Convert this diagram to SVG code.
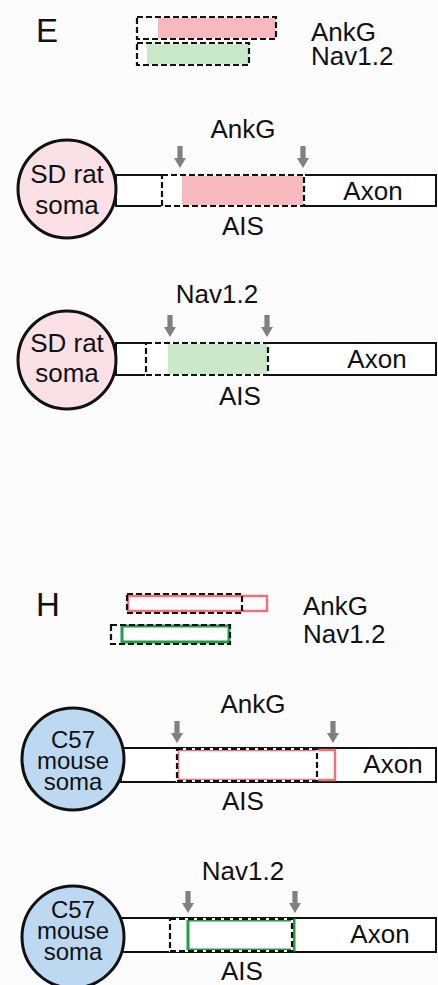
<svg xmlns="http://www.w3.org/2000/svg" width="438" height="985" viewBox="0 0 438 985">
<defs>
<style>
text{font-family:"Liberation Sans",Arial,sans-serif;fill:#111;font-size:26px}
.mid{text-anchor:middle}
.big{font-size:33px}
.ax{fill:#fff;stroke:#111;stroke-width:2}
.dash{fill:none;stroke:#111;stroke-width:2.2;stroke-dasharray:6 3}
.wl{fill:none;stroke:#fff;stroke-width:2}
.arr{fill:#808080}
.somaP{fill:#fbe1e5;stroke:#111;stroke-width:3}
.somaB{fill:#bdd9f2;stroke:#111;stroke-width:3}
.pinkF{fill:#f8babf}
.greenF{fill:#c9e8ca}
.pinkS{fill:none;stroke:#ef737c;stroke-width:2.5}
.greenS{fill:none;stroke:#1f9e4c;stroke-width:3}
.sm{font-size:24px}
</style>
<path id="arrow" d="M-2.6,0 H2.6 V12 H6 L0,22 L-6,12 H-2.6 Z"/>
</defs>
<rect width="438" height="985" fill="#fcfcfc"/>

<g id="panelE-label"><text class="big" x="36" y="42">E</text></g>
<g id="legendE">
<rect class="pinkF" x="158" y="18" width="118" height="20"/>
<rect class="dash" x="137" y="17" width="139" height="22"/>
<rect class="greenF" x="147" y="44" width="102" height="20"/>
<rect class="dash" x="137" y="43" width="112" height="22"/>
<text x="311" y="41">AnkG</text>
<text x="311" y="65">Nav1.2</text>
</g>

<g id="E1">
<rect class="ax" x="116" y="175" width="320" height="31"/>
<rect class="pinkF" x="182" y="176" width="122" height="29"/>
<rect class="wl" x="162" y="175" width="142" height="31"/>
<rect class="dash" x="162" y="175" width="142" height="31"/>
<circle class="somaP" cx="67" cy="189" r="49"/>
<text class="mid" x="67" y="183">SD rat</text>
<text class="mid" x="67" y="214">soma</text>
<text class="mid" x="243" y="138">AnkG</text>
<text class="mid" x="373" y="200">Axon</text>
<text class="mid" x="243" y="235">AIS</text>
</g>

<g id="E2">
<rect class="ax" x="116" y="343" width="320" height="32"/>
<rect class="greenF" x="168" y="344" width="100" height="30"/>
<rect class="wl" x="146" y="343" width="122" height="32"/>
<rect class="dash" x="146" y="343" width="122" height="32"/>
<circle class="somaP" cx="67" cy="360" r="49"/>
<text class="mid" x="67" y="352">SD rat</text>
<text class="mid" x="67" y="382">soma</text>
<text class="mid" x="217" y="303">Nav1.2</text>
<text class="mid" x="377" y="368">Axon</text>
<text class="mid" x="240" y="405">AIS</text>
</g>

<g id="panelH-label"><text class="big" x="36" y="616">H</text></g>
<g id="legendH">
<rect class="pinkS" x="128" y="596" width="139" height="15"/>
<rect class="dash" x="127" y="594" width="115" height="19"/>
<rect class="greenS" x="122" y="626" width="107" height="16"/>
<rect class="dash" x="111" y="625" width="119" height="19"/>
<text x="303" y="615">AnkG</text>
<text x="303" y="643">Nav1.2</text>
</g>

<g id="H1">
<rect class="ax" x="121" y="748" width="315" height="34"/>
<rect class="pinkS" x="178" y="750" width="157" height="30"/>
<rect class="wl" x="177" y="749" width="140" height="32"/>
<rect class="dash" x="177" y="749" width="140" height="32"/>
<circle class="somaB" cx="73" cy="759" r="51"/>
<text class="mid sm" x="73" y="748">C57</text>
<text class="mid sm" x="73" y="769">mouse</text>
<text class="mid sm" x="73" y="790">soma</text>
<text class="mid" x="253" y="713">AnkG</text>
<text class="mid" x="393" y="773">Axon</text>
<text class="mid" x="243" y="810">AIS</text>
</g>

<g id="H2">
<rect class="ax" x="121" y="918" width="315" height="34"/>
<rect class="greenS" x="188" y="920" width="106" height="30"/>
<rect class="wl" x="170" y="919" width="122" height="32"/>
<rect class="dash" x="170" y="919" width="122" height="32"/>
<circle class="somaB" cx="73" cy="937" r="51"/>
<text class="mid sm" x="73" y="918">C57</text>
<text class="mid sm" x="73" y="939">mouse</text>
<text class="mid sm" x="73" y="960">soma</text>
<text class="mid" x="243" y="880">Nav1.2</text>
<text class="mid" x="380" y="943">Axon</text>
<text class="mid" x="242" y="980">AIS</text>
</g>

<g id="connectors">
<use href="#arrow" class="arr" x="180" y="146"/>
<use href="#arrow" class="arr" x="303" y="146"/>
<use href="#arrow" class="arr" x="170" y="315"/>
<use href="#arrow" class="arr" x="267" y="315"/>
<use href="#arrow" class="arr" x="177" y="721"/>
<use href="#arrow" class="arr" x="333" y="721"/>
<use href="#arrow" class="arr" x="188" y="891"/>
<use href="#arrow" class="arr" x="295" y="891"/>
</g>
</svg>
